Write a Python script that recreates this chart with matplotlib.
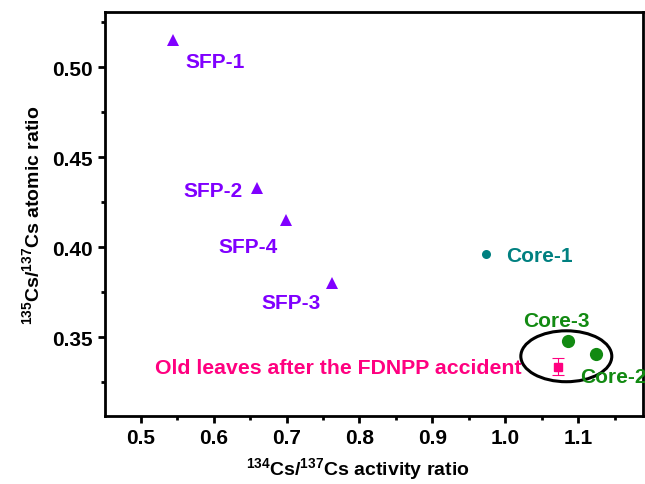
import matplotlib
matplotlib.use("Agg")
import matplotlib.pyplot as plt
from matplotlib.patches import Ellipse
from matplotlib.ticker import MultipleLocator

plt.rcParams['font.family'] = ['Liberation Sans', 'DejaVu Sans']
plt.rcParams['font.weight'] = 'bold'
plt.rcParams['mathtext.fontset'] = 'custom'
plt.rcParams['mathtext.rm'] = 'Liberation Sans'
plt.rcParams['mathtext.it'] = 'Liberation Sans'
plt.rcParams['mathtext.bf'] = 'Liberation Sans:bold'

# spent fuel pools
sfp_names = ['SFP-1', 'SFP-2', 'SFP-4', 'SFP-3']
sfp_x = [0.544, 0.660, 0.699, 0.763]
sfp_y = [0.515, 0.433, 0.415, 0.380]
sfp_text = [(0.561, 0.4998), (0.558, 0.4282), (0.606, 0.3971), (0.666, 0.3661)]

# reactor cores
core1_x, core1_y = 0.974, 0.396
core23_names = ['Core-3', 'Core-2']
core23_x = [1.086, 1.124]
core23_y = [0.3476, 0.3406]
core_text = [(1.001, 0.3921), (1.024, 0.3563), (1.1026, 0.3248)]

# old leaves
leaf_x, leaf_y, leaf_err = 1.072, 0.3335, 0.0048

purple = '#8000ff'
teal = '#008080'
green = '#128a12'
pink = '#ff0080'

fig = plt.figure(figsize=(6.45, 4.85), dpi=100)
ax = fig.add_axes([0.1628, 0.1402, 0.8341, 0.833])

ax.plot(sfp_x, sfp_y, '^', color=purple, ms=8.5, mew=0, ls='none')
for name, (tx, ty) in zip(sfp_names, sfp_text):
    ax.text(tx, ty, name, color=purple, fontsize=15, fontweight='bold', va='baseline')

ax.plot([core1_x], [core1_y], 'o', color=teal, ms=6.5, mew=0)
ax.text(core_text[0][0], core_text[0][1], 'Core-1', color=teal, fontsize=15,
        fontweight='bold', va='baseline')
ax.plot(core23_x, core23_y, 'o', color=green, ms=9.5, mew=0, ls='none')
for name, (tx, ty) in zip(core23_names, core_text[1:]):
    ax.text(tx, ty, name, color=green, fontsize=15, fontweight='bold', va='baseline')

ax.errorbar([leaf_x], [leaf_y], yerr=[leaf_err], fmt='s', color=pink, ms=6,
            capsize=4, elinewidth=0.8, capthick=0.8)
ax.text(0.5196, 0.3300, 'Old leaves after the FDNPP accident', color=pink,
        fontsize=15.3, fontweight='bold', va='baseline')

ax.add_patch(Ellipse((1.0838, 0.3393), 0.1248, 0.0283, fill=False,
                     edgecolor='black', lw=2.2))

ax.set_xlim(0.451, 1.189)
ax.set_ylim(0.3061, 0.5306)
ax.xaxis.set_major_locator(MultipleLocator(0.1))
ax.xaxis.set_minor_locator(MultipleLocator(0.05))
ax.yaxis.set_major_locator(MultipleLocator(0.05))
ax.yaxis.set_minor_locator(MultipleLocator(0.025))
ax.xaxis.set_major_formatter(plt.FuncFormatter(lambda v, p: f'{v:.1f}'))
ax.yaxis.set_major_formatter(plt.FuncFormatter(lambda v, p: f'{v:.2f}'))

for s in ax.spines.values():
    s.set_linewidth(2)
ax.tick_params(which='major', direction='out', length=5, width=2, labelsize=15)
ax.tick_params(which='minor', direction='out', length=3, width=2)
for lab in ax.get_xticklabels() + ax.get_yticklabels():
    lab.set_fontweight('bold')

ax.set_xlabel(r'$^{134}$Cs/$^{137}$Cs activity ratio', fontsize=14, fontweight='bold')
ax.set_ylabel(r'$^{135}$Cs/$^{137}$Cs atomic ratio', fontsize=14, fontweight='bold')
ax.xaxis.set_label_coords(0.470, -0.098)
ax.yaxis.set_label_coords(-0.115, 0.5)

fig.savefig('out.png', dpi=100)
